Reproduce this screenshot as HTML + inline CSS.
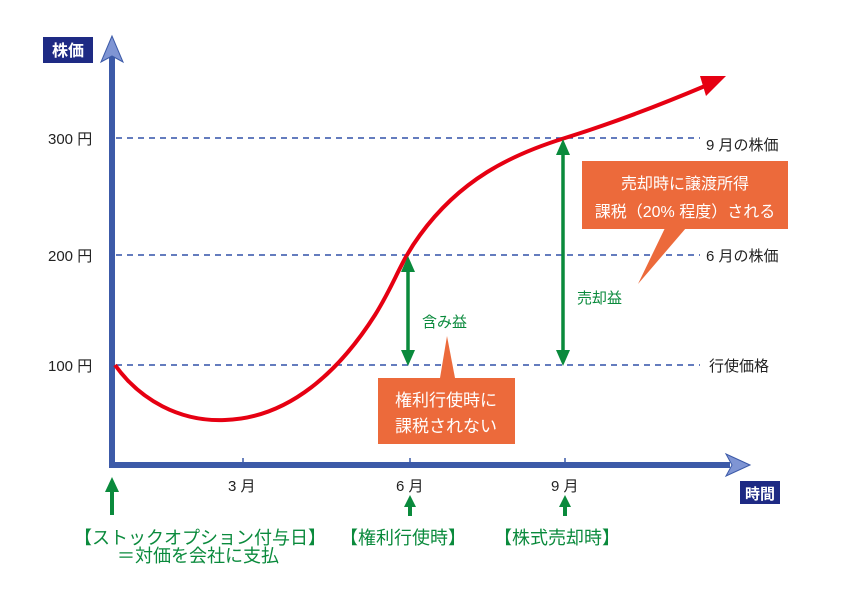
<!DOCTYPE html>
<html><head><meta charset="utf-8"><style>
body{margin:0;background:#fff;}
svg text{font-family:"Liberation Sans","Noto Sans CJK JP",sans-serif;}
</style></head><body>
<svg width="842" height="595" viewBox="0 0 842 595" xmlns="http://www.w3.org/2000/svg">
<g stroke="#3050a8" stroke-width="1.5" stroke-dasharray="6,5">
<line x1="116" y1="138" x2="700" y2="138"/>
<line x1="116" y1="255" x2="700" y2="255"/>
<line x1="116" y1="365" x2="700" y2="365"/>
</g>
<line x1="112" y1="467" x2="112" y2="55" stroke="#3c5aa8" stroke-width="6"/>
<polygon points="112,36 101,62 112,56 123,62" fill="#7f95d4" stroke="#3c5aa8" stroke-width="1"/>
<line x1="109" y1="465" x2="730" y2="465" stroke="#3c5aa8" stroke-width="6"/>
<polygon points="750,465 726,454 732,465 726,476" fill="#7f95d4" stroke="#3c5aa8" stroke-width="1"/>
<g stroke="#3c5aa8" stroke-width="1.5">
<line x1="243" y1="458" x2="243" y2="465"/><line x1="410" y1="458" x2="410" y2="465"/><line x1="565" y1="458" x2="565" y2="465"/>
</g>
<g font-size="15" fill="#222">
<text x="48" y="144">300 円</text>
<text x="48" y="261">200 円</text>
<text x="48" y="371">100 円</text>
<text x="228" y="491">3 月</text>
<text x="396" y="491">6 月</text>
<text x="551" y="491">9 月</text>
<text x="706" y="150">9 月の株価</text>
<text x="706" y="261">6 月の株価</text>
<text x="709" y="371">行使価格</text>
</g>
<rect x="43" y="37" width="50" height="26" fill="#1e2a84"/>
<text x="68" y="56" font-size="16" font-weight="bold" fill="#fff" text-anchor="middle">株価</text>
<rect x="740" y="481" width="40" height="23" fill="#1e2a84"/>
<text x="760" y="499" font-size="15" font-weight="bold" fill="#fff" text-anchor="middle">時間</text>
<path d="M115,365 C140,400 180,422 225,420 C290,418 340,370 375,315 C395,283 400,262 420,235 C460,180 510,155 565,138 C610,124 660,105 705,86" fill="none" stroke="#e60012" stroke-width="4"/>
<polygon points="726,76 700,76 706,96" fill="#e60012"/>
<g fill="#0a8a3c" stroke="#0a8a3c">
<line x1="408" y1="268" x2="408" y2="352" stroke-width="3.5"/>
<polygon points="408,256 401,272 415,272" stroke="none"/>
<polygon points="408,366 401,350 415,350" stroke="none"/>
<line x1="563" y1="150" x2="563" y2="352" stroke-width="3.5"/>
<polygon points="563,139 556,155 570,155" stroke="none"/>
<polygon points="563,366 556,350 570,350" stroke="none"/>
<line x1="112" y1="490" x2="112" y2="515" stroke-width="4"/>
<polygon points="112,477 105,492 119,492" stroke="none"/>
<line x1="410" y1="505" x2="410" y2="516" stroke-width="4"/>
<polygon points="410,495 404,507 416,507" stroke="none"/>
<line x1="565" y1="505" x2="565" y2="516" stroke-width="4"/>
<polygon points="565,495 559,507 571,507" stroke="none"/>
</g>
<g fill="#0a8a3c" font-size="15">
<text x="422" y="327">含み益</text>
<text x="577" y="303">売却益</text>
<text x="74" y="544" font-size="18" textLength="252" lengthAdjust="spacingAndGlyphs">【ストックオプション付与日】</text>
<text x="198" y="562" font-size="18" text-anchor="middle">＝対価を会社に支払</text>
<text x="340" y="544" font-size="18">【権利行使時】</text>
<text x="494" y="544" font-size="18">【株式売却時】</text>
</g>
<polygon points="440,378 447,336 455,378" fill="#ec6a3b"/>
<rect x="378" y="378" width="137" height="66" fill="#ec6a3b"/>
<text x="446" y="406" font-size="17" fill="#fff" text-anchor="middle">権利行使時に</text>
<text x="446" y="432" font-size="17" fill="#fff" text-anchor="middle">課税されない</text>
<polygon points="665,228 638,284 686,228" fill="#ec6a3b"/>
<rect x="582" y="161" width="206" height="68" fill="#ec6a3b"/>
<text x="685" y="189" font-size="16" fill="#fff" text-anchor="middle">売却時に譲渡所得</text>
<text x="685" y="217" font-size="16" fill="#fff" text-anchor="middle">課税（20% 程度）される</text>
</svg>
</body></html>
